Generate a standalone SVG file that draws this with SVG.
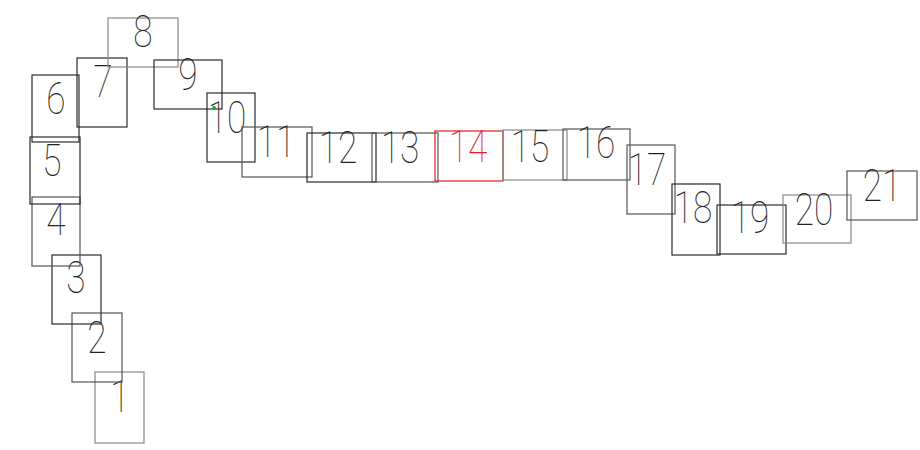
<svg xmlns="http://www.w3.org/2000/svg" width="920" height="450" viewBox="0 0 920 450">
<style>
rect{fill:none;stroke-width:1.2}
.d{stroke:#2a2a2a}
.m{stroke:#555}
.l{stroke:#888}
.r{stroke:#e02020}
text{font-family:Roboto,"DejaVu Sans",sans-serif;font-weight:100;font-size:44px;fill:#222;text-anchor:middle}
text.red{fill:#e02020}
</style>
<rect width="920" height="450" fill="#fff" stroke="none"/>
<g id="n1"><rect class="l" x="95" y="372" width="49" height="71"/><text transform="translate(120,412) scale(0.8,1)">1</text></g>
<g id="n2"><rect class="m" x="72" y="313" width="50" height="69"/><text transform="translate(97,353) scale(0.8,1)">2</text></g>
<g id="n3"><rect class="d" x="52" y="255" width="49" height="69"/><text transform="translate(76,293) scale(0.8,1)">3</text></g>
<g id="n4"><rect class="m" x="32" y="197" width="48" height="69"/><text transform="translate(56,235) scale(0.8,1)">4</text></g>
<g id="n5"><rect class="d" x="30" y="137" width="50" height="67"/><text transform="translate(52,176) scale(0.8,1)">5</text></g>
<g id="n6"><rect class="d" x="32" y="75" width="47" height="67"/><text transform="translate(56,114) scale(0.8,1)">6</text></g>
<g id="n7"><rect class="d" x="77" y="58" width="50" height="69"/><text transform="translate(103,97) scale(0.8,1)">7</text></g>
<g id="n8"><rect class="l" x="108" y="18" width="70" height="49"/><text transform="translate(143,47) scale(0.8,1)">8</text></g>
<g id="n9"><rect class="d" x="154" y="60" width="68" height="49"/><text transform="translate(188,90) scale(0.8,1)">9</text></g>
<g id="n10"><rect class="d" x="207" y="93" width="48" height="69"/><text transform="translate(227,133) scale(0.8,1)">10</text><circle cx="214" cy="108" r="2" fill="#2a2"/></g>
<g id="n11"><rect class="m" x="242" y="127" width="70" height="50"/><text transform="translate(276,157) scale(0.8,1)">11</text></g>
<g id="n12"><rect class="d" x="307" y="133" width="69" height="49"/><text transform="translate(338,163) scale(0.8,1)">12</text></g>
<g id="n13"><rect class="m" x="372" y="133" width="66" height="49"/><text transform="translate(400,163) scale(0.8,1)">13</text></g>
<g id="n14"><rect class="r" x="435" y="131" width="68" height="50"/><text class="red" transform="translate(468,162) scale(0.8,1)">14</text></g>
<g id="n15"><rect class="l" x="503" y="130" width="64" height="50"/><text transform="translate(530,162) scale(0.8,1)">15</text></g>
<g id="n16"><rect class="m" x="563" y="129" width="67" height="51"/><text transform="translate(596,158) scale(0.8,1)">16</text></g>
<g id="n17"><rect class="m" x="627" y="145" width="48" height="69"/><text transform="translate(647,185) scale(0.8,1)">17</text></g>
<g id="n18"><rect class="d" x="672" y="184" width="48" height="71"/><text transform="translate(693,223) scale(0.8,1)">18</text></g>
<g id="n19"><rect class="d" x="717" y="205" width="69" height="49"/><text transform="translate(750,233) scale(0.8,1)">19</text></g>
<g id="n20"><rect class="l" x="783" y="195" width="68" height="48"/><text transform="translate(814,225) scale(0.8,1)">20</text></g>
<g id="n21"><rect class="m" x="847" y="171" width="70" height="49"/><text transform="translate(882,201) scale(0.8,1)">21</text></g>
</svg>
